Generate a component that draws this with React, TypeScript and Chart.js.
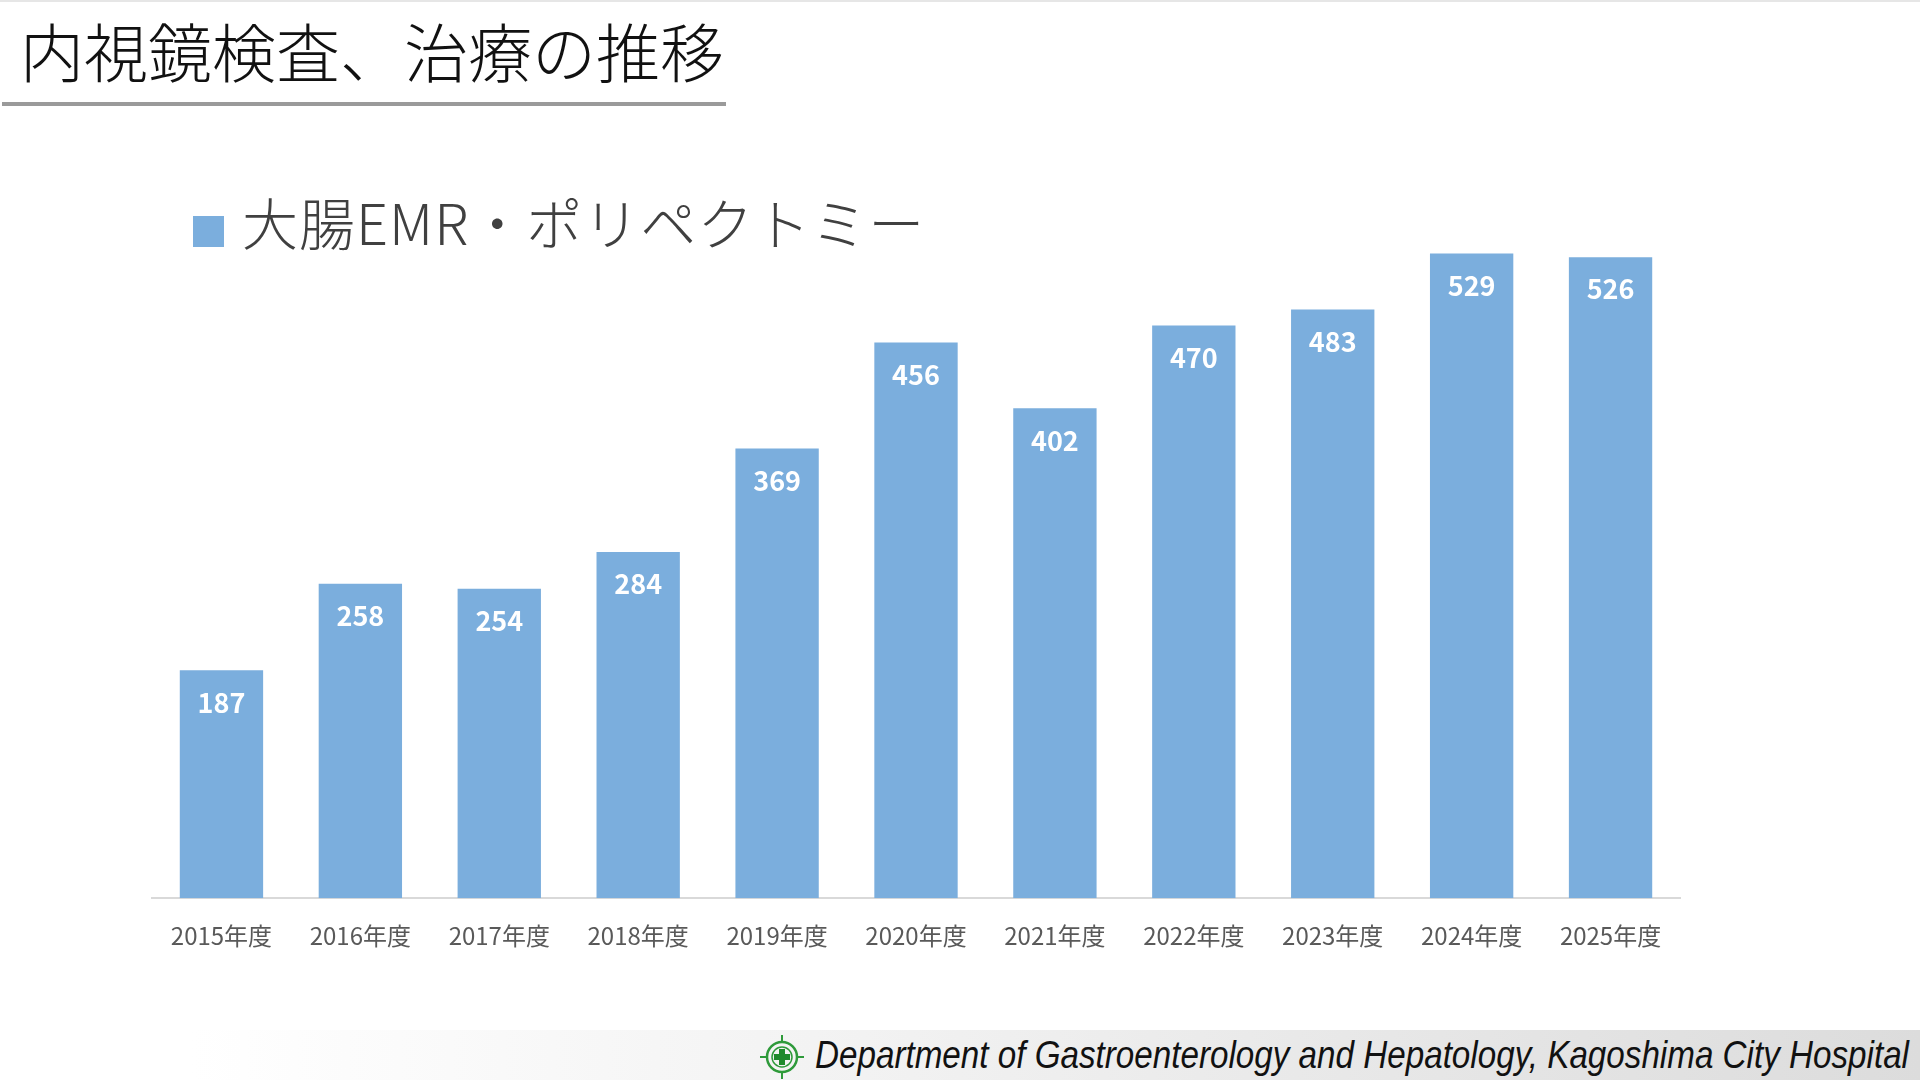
import { useEffect, useRef } from 'react';
import Chart from 'chart.js/auto';

const categories = ['2015年度', '2016年度', '2017年度', '2018年度', '2019年度', '2020年度', '2021年度', '2022年度', '2023年度', '2024年度', '2025年度'];
const emrValues = [187, 258, 254, 284, 369, 456, 402, 470, 483, 529, 526];
const seriesName = '大腸EMR・ポリペクトミー';
const pageTitle = '内視鏡検査、治療の推移';
const footerText = 'Department of Gastroenterology and Hepatology, Kagoshima City Hospital';

const barColor = '#7BAEDD';
const jpFont = '"Noto Sans CJK JP", "Noto Sans", sans-serif';

// white value labels just inside the top of each bar
const barValuePlugin = {
    id: 'barValuePlugin',
    afterDatasetsDraw: (chart: any) => {
        const ctx = chart.ctx;
        const meta = chart.getDatasetMeta(0);
        const data = chart.data.datasets[0].data;
        ctx.save();
        ctx.fillStyle = '#ffffff';
        ctx.font = `bold 27px ${jpFont}`;
        ctx.textAlign = 'center';
        ctx.textBaseline = 'middle';
        meta.data.forEach((bar: any, i: number) => {
            ctx.fillText(String(data[i]), bar.x, bar.y + 32);
        });
        ctx.restore();
    }
};

const App: React.FC = () => {
    const chartRef = useRef<HTMLCanvasElement>(null);
    const footerRef = useRef<HTMLSpanElement>(null);

    useEffect(() => {
        // squeeze footer text to the condensed width of the original
        if (footerRef.current) {
            const w = footerRef.current.getBoundingClientRect().width;
            if (w > 0) footerRef.current.style.transform = `scaleX(${1094 / w})`;
        }

        if (!chartRef.current) return;
        const ctx = chartRef.current.getContext('2d');
        if (!ctx) return;

        const chart = new Chart(ctx, {
            type: 'bar',
            data: {
                labels: categories,
                datasets: [
                    {
                        label: seriesName,
                        data: emrValues,
                        backgroundColor: barColor,
                        borderWidth: 0,
                        categoryPercentage: 1,
                        barPercentage: 0.6
                    }
                ]
            },
            options: {
                animation: false,
                responsive: false,
                maintainAspectRatio: false,
                layout: {
                    padding: { left: 152, right: 240, top: 167, bottom: 27 }
                },
                scales: {
                    y: {
                        display: false,
                        min: 0,
                        max: 600
                    },
                    x: {
                        grid: { display: false, drawTicks: false },
                        border: { display: true, color: '#d9d9d9', width: 2 },
                        ticks: {
                            color: '#595959',
                            padding: 23,
                            font: { family: jpFont, size: 24 }
                        }
                    }
                },
                plugins: {
                    legend: { display: false },
                    tooltip: { enabled: false }
                }
            },
            plugins: [barValuePlugin]
        });

        return () => {
            chart.destroy();
        };
    }, []);

    return (
        <div style={{ position: 'fixed', left: 0, top: 0, width: 1920, height: 1080, background: '#ffffff', overflow: 'hidden', borderTop: '2px solid #e6e6e6', boxSizing: 'border-box' }}>
            <div style={{ position: 'absolute', left: 20, top: 2, fontFamily: jpFont, fontWeight: 300, fontSize: 64, color: '#111111', lineHeight: '90px', whiteSpace: 'nowrap' }}>
                {pageTitle}
            </div>
            <div style={{ position: 'absolute', left: 2, top: 100, width: 724, height: 4, background: '#9a9a9a' }} />

            <div style={{ position: 'absolute', left: 193, top: 214, width: 31, height: 31, background: barColor }} />
            <div style={{ position: 'absolute', left: 242, top: 181, fontFamily: jpFont, fontWeight: 300, fontSize: 56, letterSpacing: 1, color: '#404040', lineHeight: '76px', whiteSpace: 'nowrap' }}>
                {seriesName}
            </div>

            <canvas ref={chartRef} width={1920} height={1000} style={{ position: 'absolute', left: 0, top: -2, width: 1920, height: 1000 }}></canvas>

            <div style={{ position: 'absolute', left: 0, top: 1028, width: 1920, height: 52, background: 'linear-gradient(to right, #ffffff 10%, #f2f2f2 45%, #dcdcdc 100%)' }} />
            <svg width={46} height={46} viewBox="0 0 46 46" style={{ position: 'absolute', left: 759, top: 1032 }}>
                <circle cx={23} cy={23} r={15} fill="none" stroke="#2e9a3a" strokeWidth={2.5} />
                <circle cx={23} cy={23} r={10} fill="none" stroke="#2e9a3a" strokeWidth={1.5} />
                <path d="M23 1 L23 8 M23 38 L23 45 M1 23 L8 23 M38 23 L45 23" stroke="#2e9a3a" strokeWidth={2} />
                <path d="M20 15 H26 V20 H31 V26 H26 V31 H20 V26 H15 V20 H20 Z" fill="#1f8a2c" />
            </svg>
            <div style={{ position: 'absolute', left: 815, top: 1029, lineHeight: '48px', whiteSpace: 'nowrap' }}>
                <span ref={footerRef} style={{ display: 'inline-block', transformOrigin: 'left center', fontFamily: '"Liberation Sans", "DejaVu Sans", sans-serif', fontStyle: 'italic', fontSize: 38, color: '#111111' }}>
                    {footerText}
                </span>
            </div>
        </div>
    );
};

export default App;
